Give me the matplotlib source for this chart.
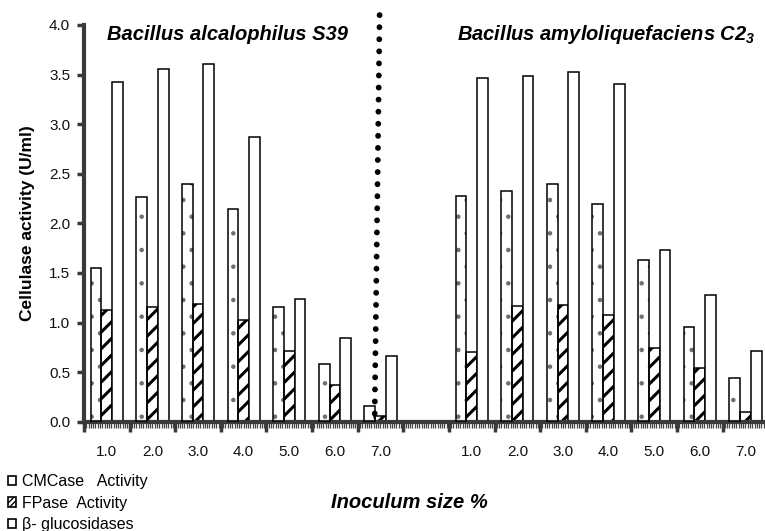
import matplotlib
matplotlib.use("Agg")
import matplotlib.pyplot as plt
import numpy as np
from matplotlib.patches import Patch

plt.rcParams['font.family'] = ['Liberation Sans', 'DejaVu Sans']
plt.rcParams['mathtext.fontset'] = 'custom'
plt.rcParams['mathtext.rm'] = 'Liberation Sans:bold:italic'
plt.rcParams['mathtext.it'] = 'Liberation Sans:bold:italic'
plt.rcParams['mathtext.bf'] = 'Liberation Sans:bold:italic'

# ---- data ----
inoculum_labels = ["1.0", "2.0", "3.0", "4.0", "5.0", "6.0", "7.0"]
series_names = ["CMCase   Activity", "FPase  Activity", "β- glucosidases"]

alc_cmcase = [1.55, 2.27, 2.40, 2.14, 1.16, 0.58, 0.16]
alc_fpase = [1.13, 1.16, 1.19, 1.03, 0.71, 0.37, 0.06]
alc_bgluc = [3.43, 3.56, 3.61, 2.87, 1.24, 0.84, 0.66]

amy_cmcase = [2.28, 2.33, 2.40, 2.20, 1.63, 0.95, 0.44]
amy_fpase = [0.70, 1.17, 1.18, 1.08, 0.74, 0.54, 0.10]
amy_bgluc = [3.47, 3.49, 3.53, 3.41, 1.73, 1.28, 0.71]

title_left = "Bacillus alcalophilus S39"
title_right = "Bacillus amyloliquefaciens C2$_3$"

# ---- layout ----
W, H = 765, 531
fig = plt.figure(figsize=(W / 100, H / 100), dpi=100)
ax = fig.add_axes([84 / W, 1 - 421.7 / H, 1 - 84 / W, (421.7 - 25) / H])

n = len(inoculum_labels)
pos_left = np.arange(n)
pos_right = np.arange(n) + n + 1
bw = 0.235
spine_col = '#3a3a3a'

# CMCase bars: sparse grey dotted texture
with plt.rc_context({'hatch.linewidth': 0.8, 'hatch.color': '#6e6e6e'}):
    for pos, cm in [(pos_left, alc_cmcase), (pos_right, amy_cmcase)]:
        ax.bar(pos - bw, cm, bw, facecolor='white', edgecolor='#6e6e6e',
               linewidth=0, hatch='.', zorder=2)
        ax.bar(pos - bw, cm, bw, facecolor='none', edgecolor='black',
               linewidth=1.1, zorder=3)

# FPase bars: bold diagonal stripes ; beta-glucosidase: plain
with plt.rc_context({'hatch.linewidth': 2.2, 'hatch.color': 'black'}):
    for pos, fp, bg in [(pos_left, alc_fpase, alc_bgluc), (pos_right, amy_fpase, amy_bgluc)]:
        ax.bar(pos, fp, bw, facecolor='white', edgecolor='black', linewidth=1.1,
               hatch='//', zorder=2)
        ax.bar(pos + bw, bg, bw, facecolor='white', edgecolor='black', linewidth=1.1,
               zorder=2)

ax.set_xlim(-0.5, (765 - 107.75) / 45.55)
ax.set_ylim(0, 4.0)

# y axis
yt = np.arange(0, 4.01, 0.5)
ax.set_yticks(yt)
ax.set_yticklabels([f"{v:.1f}" for v in yt])
ax.tick_params(axis='y', direction='out', length=5, width=2.5, color=spine_col,
               labelsize=11, pad=5, labelcolor='#111111')
ax.set_ylabel("Cellulase activity (U/ml)", fontsize=12.5, fontweight='bold', labelpad=10)

# x axis: labels at centres, boundary ticks as minor
centers = list(pos_left) + list(pos_right)
ax.set_xticks(centers)
ax.set_xticklabels(inoculum_labels + inoculum_labels)
ax.tick_params(axis='x', which='major', length=0, pad=17, labelsize=11, labelcolor='#111111')
ax.set_xticks(np.arange(-0.5, 14.5, 1.0), minor=True)
ax.tick_params(axis='x', which='minor', direction='out', length=7, width=2.5, color=spine_col)

# dense texture under x axis
sec = ax.secondary_xaxis('bottom')
sec.set_xticks(np.arange(-0.5, 14.5, 0.05))
sec.tick_params(axis='x', direction='out', length=4, width=0.9, color='#444444', labelbottom=False)
sec.spines['bottom'].set_visible(False)

for s in ['top', 'right']:
    ax.spines[s].set_visible(False)
ax.spines['left'].set_linewidth(3)
ax.spines['left'].set_color(spine_col)
ax.spines['bottom'].set_linewidth(3)
ax.spines['bottom'].set_color(spine_col)

# titles
ax.text(0.0, 3.9, title_left, fontsize=14.5, fontweight='bold', style='italic',
        ha='left', va='center')
ax.text(7.68, 3.9, title_right, fontsize=14.5, fontweight='bold', style='italic',
        ha='left', va='center')

# dotted separator
ax.plot([5.98, 5.87], [4.1, -0.02], color='black', linewidth=4.2,
        linestyle=(0, (0.01, 2.06)), dash_capstyle='round', clip_on=False, zorder=5)

# x label
fig.text(409 / W, 1 - 503 / H, "Inoculum size %", fontsize=14.5, fontweight='bold',
         style='italic', ha='center', va='center')

# legend
handles = [
    Patch(facecolor='white', edgecolor='black', linewidth=1.2),
    Patch(facecolor='white', edgecolor='black', linewidth=1.2, hatch='//////'),
    Patch(facecolor='white', edgecolor='black', linewidth=1.2),
]
fig.legend(handles, series_names, loc='upper left', bbox_to_anchor=(8 / W, 1 - 474 / H),
           frameon=False, fontsize=11.5, handlelength=0.5, handleheight=0.5,
           handletextpad=0.35, labelspacing=0.42, borderpad=0, borderaxespad=0)

fig.savefig("out.png", dpi=100)
